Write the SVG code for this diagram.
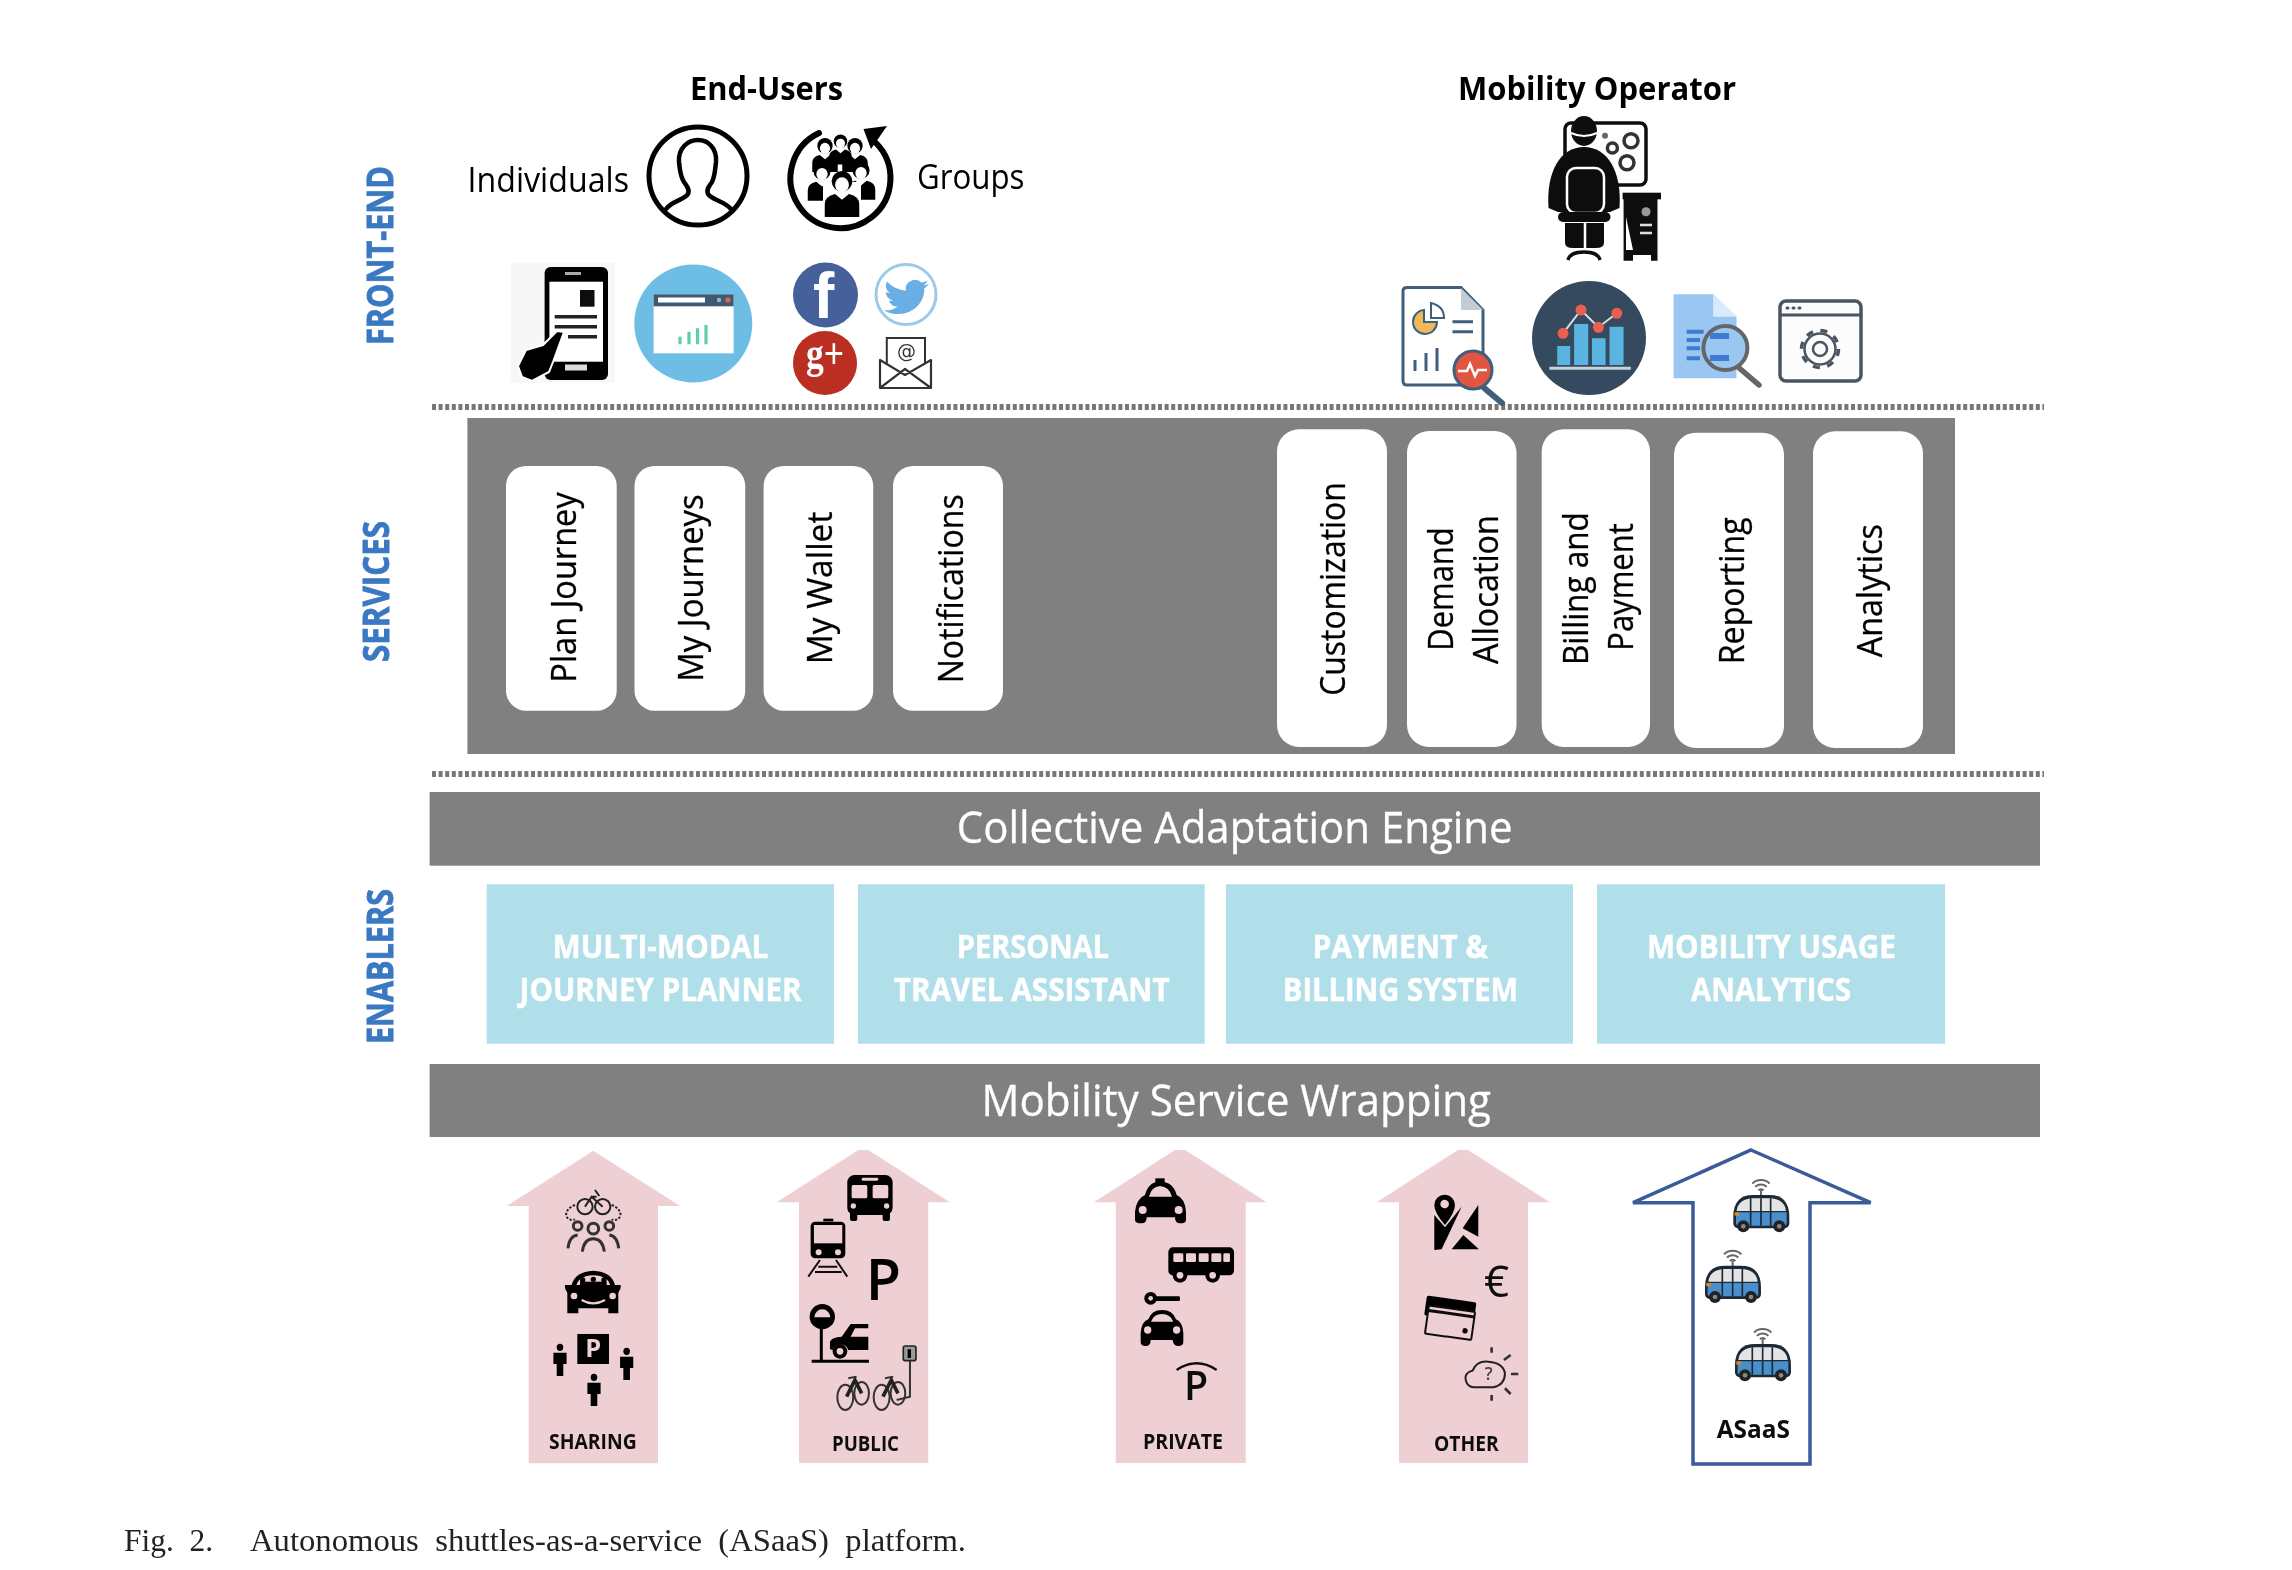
<svg xmlns="http://www.w3.org/2000/svg" xmlns:xlink="http://www.w3.org/1999/xlink" width="2292" height="1570" viewBox="0 0 2292 1570">
<style>
text{font-family:"Open Sans","Liberation Sans",sans-serif}
.side{font-family:"Open Sans","Liberation Sans",sans-serif;font-weight:700;font-size:36px;fill:#3a78c2;stroke:#3a78c2;stroke-width:.8px}
.head{font-weight:700;font-size:32px;fill:#000}
.plain{font-size:34px;fill:#000}
.svc{font-size:35px;fill:#000;stroke:#000;stroke-width:.3px}
.bar{fill:#808080}
.bartxt{font-size:43px;fill:#fff;stroke:#fff;stroke-width:.3px}
.en{fill:#b0dfea}
.entxt{font-weight:700;font-size:33px;fill:#fff;stroke:#fff;stroke-width:.5px}
.card{fill:#fff}
.pink{fill:#eecfd3}
.tag{font-weight:700;font-size:21px;fill:#111}
.cap{font-family:"Liberation Serif","Times New Roman",serif;font-size:32px;fill:#222;word-spacing:8px}
.dot{stroke:#777;stroke-width:6;stroke-dasharray:4 2.6;fill:none}
.k{fill:#000}
.p{fill:#eecfd3}
.ln{fill:none;stroke:#000;stroke-linecap:round;stroke-linejoin:round}
</style>
<defs>
<filter id="soft" filterUnits="userSpaceOnUse" x="0" y="0" width="2292" height="1570"><feGaussianBlur stdDeviation="0.7"/></filter>
<g id="bust"><path d="M-15 26V15Q-15 8-6 6L0 11 6 6Q15 8 15 15V26Z" fill="#000"/><circle cy="-5" r="9" fill="#000"/><ellipse cy="-2" rx="6" ry="6.5" fill="#fff"/></g>
<g id="man"><circle cy="-38" r="11" fill="#000"/><path d="M-22 -22H22V12H11V48H-11V12H-22Z" fill="#000"/></g>
<g id="shuttle">
<path d="M57 -34A32 26 0 0 1 109 -34M66 -24A20 16 0 0 1 100 -24M75 -14A10 9 0 0 1 91 -14M83 -14V3" fill="none" stroke="#666" stroke-width="6"/>
<path d="M0 65Q0 0 60 0H108Q168 0 168 65V85Q168 100 150 100H18Q0 100 0 85Z" fill="#1d2a38"/>
<path d="M10 48Q14 12 60 10H108Q154 12 158 48Z" fill="#e4e4e4"/>
<path d="M8 52H160V85Q160 92 150 92H18Q8 92 8 85Z" fill="#4a8fcb"/>
<path d="M52 10V92M83 10V92M112 10V92" stroke="#1d2a38" stroke-width="5" fill="none"/>
<rect x="4" y="52" width="14" height="10" fill="#d98a1e"/>
<circle cx="30" cy="94" r="18" fill="#222"/><circle cx="30" cy="94" r="7" fill="#888"/>
<circle cx="138" cy="94" r="18" fill="#222"/><circle cx="138" cy="94" r="7" fill="#888"/>
</g>
</defs>
<rect width="2292" height="1570" fill="#fff"/>
<g filter="url(#soft)">

<g id="connectors">
<line class="dot" x1="432" y1="407" x2="2044" y2="407"/>
<line class="dot" x1="432" y1="774" x2="2044" y2="774"/>
</g>

<g id="label-front-end"><text class="side" transform="translate(393 345) rotate(-90)" textLength="179" lengthAdjust="spacingAndGlyphs">FRONT-END</text></g>
<g id="label-services"><text class="side" transform="translate(389 662) rotate(-90)" textLength="141" lengthAdjust="spacingAndGlyphs">SERVICES</text></g>
<g id="label-enablers"><text class="side" transform="translate(393 1044) rotate(-90)" textLength="155" lengthAdjust="spacingAndGlyphs">ENABLERS</text></g>

<g id="end-users"><text class="head" x="690" y="100" textLength="153" lengthAdjust="spacingAndGlyphs">End-Users</text></g>
<g id="mobility-operator"><text class="head" x="1458" y="100" textLength="278" lengthAdjust="spacingAndGlyphs">Mobility Operator</text></g>

<g id="individuals">
<text class="plain" x="467.5" y="192" textLength="161.5" lengthAdjust="spacingAndGlyphs">Individuals</text>
<circle cx="698" cy="176" r="49" fill="none" stroke="#000" stroke-width="5"/>
<path class="ln" stroke-width="4.5" d="M666 209C672 201 684 200 688 194 690 190 687 186 684 182 680 176 680 170 679 162 678 148 688 140 698 140 708 140 717 148 716 162 715 170 715 176 712 182 709 186 706 190 708 194 712 200 724 201 731 209"/>
</g>

<g id="groups">
<text class="plain" x="917" y="188.7" textLength="107.5" lengthAdjust="spacingAndGlyphs">Groups</text>
<path class="ln" stroke-width="6" d="M819 133A50 50 0 1 0 876 143"/>
<path class="k" d="M887 126 863.5 129 871 149Z"/>
<use xlink:href="#bust" href="#bust" transform="translate(825 150) scale(.85)"/>
<use xlink:href="#bust" href="#bust" transform="translate(855 150) scale(.85)"/>
<use xlink:href="#bust" href="#bust" transform="translate(840.5 145) scale(.75)"/>
<use xlink:href="#bust" href="#bust" transform="translate(822 176) scale(.95)"/>
<use xlink:href="#bust" href="#bust" transform="translate(861 175) scale(.95)"/>
<path fill="#fff" d="M823 182H861V213H823Z"/>
<use xlink:href="#bust" href="#bust" transform="translate(842 187) scale(1.15)"/>
</g>

<g id="phone-app">
<rect x="510.6" y="263" width="104.4" height="119.7" fill="#f7f7f7"/>
<rect x="544.6" y="267" width="63.4" height="113" rx="6" fill="#000"/>
<rect x="549.4" y="281.7" width="53.6" height="80" fill="#fff"/>
<rect x="565" y="364.5" width="22" height="6" fill="#ddd"/>
<rect x="565" y="272" width="16" height="3" fill="#aaa"/>
<rect x="580" y="290" width="14.5" height="16.7" fill="#111"/>
<path d="M554.7 316.7H597M554.7 326.7H597M568 336.7H597" stroke="#222" stroke-width="3.6"/>
<path class="k" stroke="#fff" stroke-width="2" d="M564 332 553 362 549 372 532 381 522 377 518 366 526 350 543 345 557 331Z"/>
</g>

<g id="web-app">
<circle cx="693.3" cy="323.5" r="59" fill="#6dbde4"/>
<rect x="653.6" y="294.3" width="80" height="59" fill="#fff"/>
<rect x="653.6" y="294.3" width="80" height="12" fill="#3d5a72"/>
<rect x="658" y="297.5" width="47" height="5" fill="#fff"/>
<circle cx="728" cy="300" r="2.6" fill="#e8604f"/><circle cx="719" cy="300" r="2.2" fill="#9fb3c2"/>
<path d="M680 344.3V336.7M689 344.3V331.7M697.5 344.3V328.3M706 344.3V325" stroke="#5ecdb0" stroke-width="3.2"/>
</g>

<g id="social">
<circle cx="825.5" cy="295" r="32.5" fill="#44609b"/>
<text x="813" y="318" font-weight="700" font-size="64" fill="#fff" style="font-family:'Liberation Sans',sans-serif">f</text>
<circle cx="906" cy="294.5" r="30" fill="#fff" stroke="#9ccbe9" stroke-width="3"/>
<path transform="translate(884 276) scale(1.87 1.75)" fill="#6aaee3" d="M23.95 4.57a10 10 0 01-2.82.77 4.96 4.96 0 002.16-2.72c-.95.55-2 .95-3.12 1.18a4.92 4.92 0 00-8.38 4.48C7.69 8.1 4.07 6.13 1.64 3.16a4.93 4.93 0 001.52 6.57 4.9 4.9 0 01-2.23-.61v.06a4.92 4.92 0 003.95 4.83 4.9 4.9 0 01-2.22.08 4.93 4.93 0 004.6 3.42A9.87 9.87 0 010 19.54a13.94 13.94 0 007.55 2.21c9.05 0 14-7.5 14-14 0-.21 0-.42-.02-.63a10 10 0 002.47-2.55z"/>
<circle cx="825" cy="363" r="32" fill="#bb2d24"/>
<text x="806" y="368" font-weight="700" font-size="44" fill="#fff" textLength="38" lengthAdjust="spacingAndGlyphs" style="font-family:'Liberation Serif',serif">g+</text>
<rect x="886.8" y="338" width="38.2" height="34" fill="#fff" stroke="#333" stroke-width="2"/>
<text x="897" y="358" font-size="19" fill="#333" style="font-family:'DejaVu Sans',sans-serif">@</text>
<path d="M880 360V388H931V360L905 375ZM880 388 905 369 931 388" fill="#fff" stroke="#333" stroke-width="2.2" stroke-linejoin="round"/>
</g>

<g id="operator">
<rect x="1565" y="123" width="81" height="62" rx="6" fill="#fff" stroke="#111" stroke-width="3.5"/>
<ellipse cx="1584" cy="131" rx="13" ry="15" fill="#111"/>
<path d="M1571 133Q1584 139 1597 133" stroke="#fff" stroke-width="2" fill="none"/>
<circle cx="1631" cy="140.7" r="7" fill="none" stroke="#333" stroke-width="3.5"/>
<circle cx="1612.4" cy="148" r="5" fill="none" stroke="#333" stroke-width="3.5"/>
<circle cx="1627" cy="162.7" r="7" fill="none" stroke="#333" stroke-width="3.5"/>
<circle cx="1605" cy="135.7" r="3" fill="#666"/>
<path fill="#111" d="M1548.5 208C1546 172 1560 147 1584 147 1608 147 1622 172 1619.5 208L1610 212H1558Z"/>
<rect x="1567" y="168" width="37" height="45" rx="9" fill="#111" stroke="#fff" stroke-width="2.5"/>
<rect x="1558" y="212" width="52.5" height="10" rx="5" fill="#111"/>
<path d="M1565 223H1604V243Q1604 248 1596 248H1573Q1565 248 1565 243Z" fill="#111"/>
<path d="M1585 223V248" stroke="#fff" stroke-width="2.5"/>
<path d="M1568 260Q1570 252 1584 252 1598 252 1600 260" fill="none" stroke="#111" stroke-width="3.5"/>
<rect x="1622.6" y="192.7" width="38.4" height="6.6" fill="#111"/>
<path fill="#111" d="M1623.6 199H1657.5V260.7H1651V255H1633V260.7H1623.6Z"/>
<path d="M1626 217 1633 250H1626Z" fill="#fff"/>
<circle cx="1646" cy="211.7" r="4.5" fill="#999"/>
<path d="M1640 225H1652M1640 233H1652" stroke="#ddd" stroke-width="2.5"/>
</g>

<g id="report">
<path d="M1407 287.5H1461L1483 310V381Q1483 385 1479 385H1407Q1403 385 1403 381V291Q1403 287.5 1407 287.5Z" fill="#fff" stroke="#3f5f7a" stroke-width="3"/>
<path d="M1461 288V310H1483Z" fill="#c3ccd3"/>
<path d="M1424 310A12 12 0 1 0 1437 322L1424 322Z" fill="#f0b85a" stroke="#3f5f7a" stroke-width="2"/>
<path d="M1431 303Q1444 306 1444 318H1431Z" fill="#fff" stroke="#3f5f7a" stroke-width="2"/>
<path d="M1452.5 321.7H1473M1452.5 331.7H1473" stroke="#3f5f7a" stroke-width="3"/>
<path d="M1415 371V360M1426 371V353M1437 371V348" stroke="#3f5f7a" stroke-width="3"/>
<path d="M1483 387 1502 403" stroke="#3f5f7a" stroke-width="6" stroke-linecap="round"/>
<circle cx="1473" cy="370" r="19" fill="#e2543f" stroke="#3f5f7a" stroke-width="3"/>
<path d="M1458 371H1467L1470 364 1475 376 1478 370H1487" fill="none" stroke="#fff" stroke-width="2.5"/>
</g>

<g id="analytics-icon">
<circle cx="1589" cy="338" r="57" fill="#34495e"/>
<path fill="#5ab4e2" d="M1557.2 346H1570.2V365H1557.2ZM1574.1 324H1588.2V365H1574.1ZM1592 338.3H1605.6V365H1592ZM1609.5 326.7H1623.6V365H1609.5Z"/>
<path d="M1549.4 368.3H1630.8" stroke="#c8d2da" stroke-width="3"/>
<path d="M1563 333.3 1581 310 1598.4 327.3 1616.8 313.3" fill="none" stroke="#d6dde3" stroke-width="2"/>
<g fill="#e8604f"><circle cx="1563" cy="333.3" r="5.5"/><circle cx="1581" cy="310" r="5.5"/><circle cx="1598.4" cy="327.3" r="5.5"/><circle cx="1616.8" cy="313.3" r="5.5"/></g>
</g>

<g id="doc-search">
<path fill="#9ac6f2" d="M1673.5 294.3H1713.2L1736.5 316.7V378.3H1673.5Z"/>
<path fill="#d9eafb" d="M1713.2 294.3 1736.5 316.7H1713.2Z"/>
<path d="M1686.6 331.7H1703.6M1686.6 340H1700M1686.6 348.3H1700M1686.6 358.3H1700" stroke="#3d7bd0" stroke-width="4"/>
<path d="M1738 367 1759 385" stroke="#666" stroke-width="5.5" stroke-linecap="round"/>
<circle cx="1725.4" cy="348" r="22" fill="#9ac6f2" stroke="#666" stroke-width="4"/>
<path d="M1710 336H1729M1710 358H1729" stroke="#3d7bd0" stroke-width="6"/>
</g>

<g id="settings-window">
<rect x="1780" y="301" width="81" height="80" rx="6" fill="#fcfcfc" stroke="#4a5560" stroke-width="3.5"/>
<path d="M1780 315H1861" stroke="#4a5560" stroke-width="3"/>
<path d="M1787 308H1788M1793 308H1794M1799 308H1800" stroke="#4a5560" stroke-width="3" stroke-linecap="round"/>
<circle cx="1820" cy="349" r="15.5" fill="none" stroke="#4a5560" stroke-width="2.5"/>
<circle cx="1820" cy="349" r="18.5" fill="none" stroke="#4a5560" stroke-width="3.5" stroke-dasharray="7 7.5"/>
<circle cx="1820" cy="349" r="7" fill="none" stroke="#4a5560" stroke-width="2.5"/>
</g>

<g id="services-panel"><rect class="bar" x="467.4" y="418" width="1487.6" height="336"/></g>

<g id="svc-plan-journey"><rect class="card" x="506" y="466" width="110.7" height="244.7" rx="20"/><text class="svc" transform="translate(576 682.7) rotate(-90)" textLength="190.4" lengthAdjust="spacingAndGlyphs">Plan Journey</text></g>
<g id="svc-my-journeys"><rect class="card" x="634.5" y="466" width="110.7" height="244.7" rx="20"/><text class="svc" transform="translate(703 681.7) rotate(-90)" textLength="187.4" lengthAdjust="spacingAndGlyphs">My Journeys</text></g>
<g id="svc-my-wallet"><rect class="card" x="763.6" y="466" width="109.6" height="244.7" rx="20"/><text class="svc" transform="translate(832 664.3) rotate(-90)" textLength="152.6" lengthAdjust="spacingAndGlyphs">My Wallet</text></g>
<g id="svc-notifications"><rect class="card" x="893" y="466" width="110" height="244.7" rx="20"/><text class="svc" transform="translate(963 683.3) rotate(-90)" textLength="189" lengthAdjust="spacingAndGlyphs">Notifications</text></g>
<g id="svc-customization"><rect class="card" x="1277" y="429.3" width="110" height="317.7" rx="22"/><text class="svc" transform="translate(1345 695.7) rotate(-90)" textLength="213.4" lengthAdjust="spacingAndGlyphs">Customization</text></g>
<g id="svc-demand-allocation"><rect class="card" x="1407" y="431" width="109.5" height="316" rx="22"/><text class="svc" transform="translate(1452.8 650.7) rotate(-90)" textLength="123.4" lengthAdjust="spacingAndGlyphs">Demand</text><text class="svc" transform="translate(1497.8 664) rotate(-90)" textLength="149" lengthAdjust="spacingAndGlyphs">Allocation</text></g>
<g id="svc-billing-payment"><rect class="card" x="1541.7" y="429.3" width="108.3" height="317.7" rx="22"/><text class="svc" transform="translate(1588 665) rotate(-90)" textLength="152.7" lengthAdjust="spacingAndGlyphs">Billing and</text><text class="svc" transform="translate(1633 650.7) rotate(-90)" textLength="127.4" lengthAdjust="spacingAndGlyphs">Payment</text></g>
<g id="svc-reporting"><rect class="card" x="1674" y="432.7" width="110" height="315.3" rx="22"/><text class="svc" transform="translate(1743.6 664.3) rotate(-90)" textLength="147" lengthAdjust="spacingAndGlyphs">Reporting</text></g>
<g id="svc-analytics"><rect class="card" x="1813" y="431.3" width="110" height="316.7" rx="22"/><text class="svc" transform="translate(1881.8 657.3) rotate(-90)" textLength="133.3" lengthAdjust="spacingAndGlyphs">Analytics</text></g>

<g id="collective-adaptation-engine"><rect class="bar" x="429.6" y="792" width="1610.4" height="73.7"/><text class="bartxt" x="956.8" y="842.7" textLength="555.8" lengthAdjust="spacingAndGlyphs">Collective Adaptation Engine</text></g>

<g id="enabler-journey-planner"><rect class="en" x="486.7" y="884.3" width="347.3" height="159.4"/><text class="entxt" x="552.5" y="957.7" textLength="216" lengthAdjust="spacingAndGlyphs">MULTI-MODAL</text><text class="entxt" x="519.6" y="1000.7" textLength="282" lengthAdjust="spacingAndGlyphs">JOURNEY PLANNER</text></g>
<g id="enabler-travel-assistant"><rect class="en" x="858" y="884.3" width="346.7" height="159.4"/><text class="entxt" x="956.8" y="957.7" textLength="152.2" lengthAdjust="spacingAndGlyphs">PERSONAL</text><text class="entxt" x="893.7" y="1000.7" textLength="276" lengthAdjust="spacingAndGlyphs">TRAVEL ASSISTANT</text></g>
<g id="enabler-billing"><rect class="en" x="1226" y="884.3" width="347" height="159.4"/><text class="entxt" x="1312.4" y="957.7" textLength="175.6" lengthAdjust="spacingAndGlyphs">PAYMENT &amp;</text><text class="entxt" x="1282.8" y="1000.7" textLength="235.2" lengthAdjust="spacingAndGlyphs">BILLING SYSTEM</text></g>
<g id="enabler-analytics"><rect class="en" x="1597" y="884.3" width="348" height="159.4"/><text class="entxt" x="1647" y="957.7" textLength="249" lengthAdjust="spacingAndGlyphs">MOBILITY USAGE</text><text class="entxt" x="1691" y="1000.7" textLength="160" lengthAdjust="spacingAndGlyphs">ANALYTICS</text></g>

<g id="mobility-service-wrapping"><rect class="bar" x="429.6" y="1064" width="1610.4" height="73"/><text class="bartxt" x="981.5" y="1116" textLength="509.5" lengthAdjust="spacingAndGlyphs">Mobility Service Wrapping</text></g>

<g id="arrow-sharing">
<path class="pink" d="M593.3 1150.7 680 1206H658V1463.3H528.7V1206H506.7Z"/>
<text class="tag" x="549" y="1449" textLength="87.7" lengthAdjust="spacingAndGlyphs">SHARING</text>
<g transform="translate(480 1140) scale(.3333)">
<g fill="none" stroke="#222" stroke-width="6"><circle cx="315" cy="200" r="23"/><circle cx="368" cy="200" r="23"/><path d="M315 200 335 170 368 200M335 170H350M345 150 358 168"/><path stroke-dasharray="7 5" d="M285 195Q258 205 258 228 270 245 285 238M395 195Q422 205 422 228 410 245 395 238"/></g>
<g fill="none" stroke="#333" stroke-width="9"><circle cx="293" cy="258" r="13"/><circle cx="388" cy="258" r="13"/><circle cx="340" cy="266" r="16"/><path d="M264 325Q268 288 293 285M416 325Q412 288 388 285M307 335Q312 296 340 296 368 296 373 335"/></g>
<path class="k" d="M262 520V458L255 445 255 435H275Q285 395 340 392 395 395 405 435H422L422 445 415 458V520H385V505H295V520Z"/>
<path class="p" d="M290 435Q296 408 340 406 384 408 390 435Z"/>
<g class="k"><circle cx="308" cy="420" r="8"/><circle cx="340" cy="418" r="8"/><circle cx="372" cy="420" r="8"/><rect x="300" y="425" width="80" height="12"/></g>
<circle class="p" cx="282" cy="468" r="10"/><circle class="p" cx="398" cy="468" r="10"/>
<path d="M305 480Q340 500 375 480" fill="none" stroke="#eecfd3" stroke-width="7"/>
<rect class="k" x="292" y="582" width="95" height="90"/>
<text x="316" y="651" font-size="76" font-weight="700" fill="#eecfd3">P</text>
<use xlink:href="#man" href="#man" transform="translate(240 660) scale(.9 1)"/>
<use xlink:href="#man" href="#man" transform="translate(440 672) scale(.9 1)"/>
<use xlink:href="#man" href="#man" transform="translate(342 750) scale(.9 1)"/>
</g>
</g>

<g id="arrow-public">
<path class="pink" d="M858.3 1150H868.3L950 1202.3H928.3V1463H799V1202.3H776.7Z"/>
<text class="tag" x="832" y="1450.7" textLength="67" lengthAdjust="spacingAndGlyphs">PUBLIC</text>
<g transform="translate(480 1140) scale(.3333)">
<rect class="k" x="1102" y="105" width="136" height="120" rx="22"/>
<rect class="k" x="1110" y="215" width="22" height="28" rx="6"/><rect class="k" x="1208" y="215" width="22" height="28" rx="6"/>
<rect class="p" x="1115" y="135" width="47" height="40" rx="5"/><rect class="p" x="1178" y="135" width="47" height="40" rx="5"/>
<rect class="p" x="1145" y="113" width="50" height="9" rx="4"/>
<circle class="p" cx="1120" cy="198" r="8"/><circle class="p" cx="1220" cy="198" r="8"/>
<rect class="k" x="992" y="245" width="104" height="110" rx="14"/>
<rect class="k" x="1030" y="236" width="30" height="8"/>
<rect class="p" x="1002" y="255" width="85" height="55"/>
<circle class="p" cx="1016" cy="337" r="9"/><circle class="p" cx="1074" cy="337" r="9"/>
<path d="M1020 360 985 410M1068 360 1102 410M1015 380H1072M1005 396H1085" fill="none" stroke="#111" stroke-width="6"/>
<text x="1157" y="480" font-size="172" font-weight="600" fill="#000">P</text>
<circle class="k" cx="1027" cy="530" r="38"/>
<path class="p" d="M1003 532A24 24 0 0 1 1051 532Z"/>
<path d="M1024 565V660M995 664H1167" stroke="#000" stroke-width="9"/>
<path class="k" d="M1050 628V605Q1055 592 1085 590L1112 552H1165V565H1125L1112 590H1165V630H1105A25 25 0 0 0 1058 630Z"/>
<circle class="k" cx="1080" cy="634" r="22"/><circle class="p" cx="1080" cy="634" r="10"/>
<g fill="none" stroke="#333" stroke-width="6"><ellipse cx="1096" cy="772" rx="24" ry="38"/><ellipse cx="1145" cy="760" rx="22" ry="34"/><ellipse cx="1205" cy="772" rx="24" ry="38"/><ellipse cx="1254" cy="760" rx="22" ry="34"/><path d="M1105 715 1130 710M1215 715 1240 710M1290 660V770L1250 780"/></g>
<path d="M1100 770 1125 720 1145 760M1209 770 1234 720 1254 760" stroke="#222" stroke-width="11" fill="none"/>
<rect x="1270" y="618" width="38" height="44" rx="6" fill="#999" stroke="#222" stroke-width="5"/>
<rect class="k" x="1283" y="628" width="10" height="26"/>
</g>
</g>

<g id="arrow-private">
<path class="pink" d="M1175 1150H1185L1266.7 1202.3H1245.7V1463H1115.7V1202.3H1094Z"/>
<text class="tag" x="1143" y="1449" textLength="80" lengthAdjust="spacingAndGlyphs">PRIVATE</text>
<g transform="translate(1080 1140) scale(.3333)">
<rect class="k" x="226" y="115" width="28" height="14"/>
<path class="k" d="M165 215Q170 175 195 165 205 125 240 125 280 125 290 165 315 175 318 215V240Q318 250 300 250 285 250 285 232H200Q200 250 185 250 165 250 165 240Z"/>
<path class="p" d="M207 170Q214 140 240 138 268 140 276 170Z"/>
<circle class="p" cx="188" cy="210" r="12"/><circle class="p" cx="296" cy="210" r="12"/>
<rect class="k" x="265" y="322" width="197" height="84" rx="14"/>
<g class="p"><rect x="280" y="340" width="30" height="26" rx="4"/><rect x="318" y="340" width="30" height="26" rx="4"/><rect x="356" y="340" width="30" height="26" rx="4"/><rect x="394" y="340" width="30" height="26" rx="4"/><rect x="430" y="340" width="20" height="26" rx="4"/></g>
<circle class="k" cx="300" cy="406" r="22"/><circle class="p" cx="300" cy="406" r="10"/><circle class="k" cx="398" cy="406" r="22"/><circle class="p" cx="398" cy="406" r="10"/>
<circle class="k" cx="212" cy="475" r="19"/><circle class="p" cx="212" cy="475" r="7"/><rect class="k" x="225" y="469" width="75" height="14" rx="4"/>
<path class="k" d="M182 580Q184 545 205 538 215 510 246 510 278 510 288 538 308 545 310 580V605Q310 618 295 618 280 618 278 600H212Q212 618 197 618 182 618 182 605Z"/>
<path class="p" d="M213 545Q220 523 246 522 272 523 280 545Z"/>
<circle class="p" cx="203" cy="570" r="11"/><circle class="p" cx="290" cy="570" r="11"/>
<path d="M290 690Q350 650 410 690" fill="none" stroke="#111" stroke-width="7"/>
<text x="312" y="780" font-size="118" font-weight="600" fill="#111">P</text>
</g>
</g>

<g id="arrow-other">
<path class="pink" d="M1458 1150H1468L1550 1202.3H1528V1463H1399V1202.3H1376.7Z"/>
<text class="tag" x="1434" y="1450.7" textLength="64.7" lengthAdjust="spacingAndGlyphs">OTHER</text>
<g transform="translate(1080 1140) scale(.3333)">
<path class="k" d="M1063 330V225L1095 262 1145 200 1085 328ZM1195 195V290L1148 265ZM1115 328 1150 285 1197 328Z"/>
<path class="k" d="M1063 195A31 31 0 0 1 1125 195Q1125 218 1095 255 1063 218 1063 195Z"/>
<circle class="p" cx="1094" cy="192" r="13"/>
<text x="1212" y="472" font-size="132" fill="#111">€</text>
<g transform="rotate(8 1105 535)">
<rect x="1032" y="476" width="150" height="60" rx="6" class="k"/>
<rect x="1042" y="505" width="140" height="85" rx="4" fill="#eecfd3" stroke="#111" stroke-width="6"/>
<path d="M1042 520H1182" stroke="#111" stroke-width="9"/>
<circle class="k" cx="1160" cy="565" r="8"/>
</g>
<path d="M1160 728Q1148 700 1178 692 1190 662 1225 665 1270 668 1275 700 1275 735 1240 742H1180Q1165 740 1160 728Z" fill="none" stroke="#222" stroke-width="6"/>
<text x="1214" y="720" font-size="52" font-weight="600" fill="#444">?</text>
<path d="M1235 622V638M1235 765V782M1293 702H1315M1272 660 1292 645M1275 745 1292 762" stroke="#333" stroke-width="8"/>
</g>
</g>

<g id="arrow-asaas">
<path d="M1751 1150 1870.7 1202.7H1810V1464H1693V1202.7H1633Z" fill="#fff" stroke="#3a5a9a" stroke-width="3.5"/>
<text class="tag" x="1716.7" y="1438" style="font-size:25px" textLength="73.3" lengthAdjust="spacingAndGlyphs">ASaaS</text>
<g transform="translate(1600 1140) scale(.3333)">
<use xlink:href="#shuttle" href="#shuttle" transform="translate(400 165)"/>
<use xlink:href="#shuttle" href="#shuttle" transform="translate(315 377)"/>
<use xlink:href="#shuttle" href="#shuttle" transform="translate(405 612)"/>
</g>
</g>

<g id="caption">
<text class="cap" x="124" y="1557" transform="translate(0 -6)" textLength="89" lengthAdjust="spacingAndGlyphs">Fig. 2.</text>
<text class="cap" x="250" y="1557" transform="translate(0 -6)" textLength="716" lengthAdjust="spacingAndGlyphs">Autonomous shuttles-as-a-service (ASaaS) platform.</text>
</g>
</g>
</svg>
